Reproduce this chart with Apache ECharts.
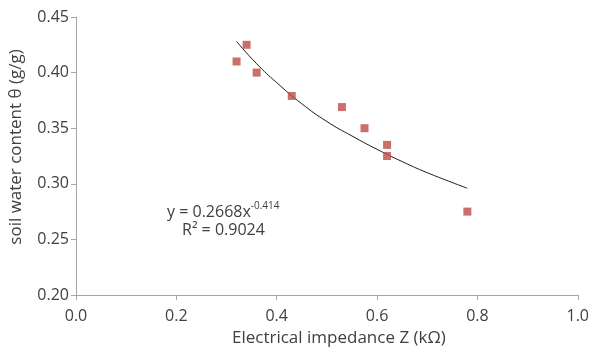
<!DOCTYPE html>
<html>
<head>
<meta charset="utf-8">
<script src="https://cdn.jsdelivr.net/npm/echarts@6/dist/echarts.min.js"></script>
<style>
  html, body { margin: 0; padding: 0; background: #fff; }
  #chart { width: 592px; height: 353px; }
</style>
</head>
<body>
<div id="chart"></div>
<script>
// measured points (Z in kOhm, theta in g/g)
const impedance = [0.32, 0.34, 0.36, 0.43, 0.53, 0.575, 0.62, 0.62, 0.78];
const waterContent = [0.41, 0.425, 0.40, 0.379, 0.369, 0.35, 0.335, 0.325, 0.275];

// power trendline
const trendX = [0.32, 0.36, 0.40, 0.45, 0.50, 0.55, 0.60, 0.65, 0.70, 0.78];
const trendY = [0.428, 0.408, 0.391, 0.372, 0.356, 0.343, 0.331, 0.320, 0.310, 0.296];

const FONT = '"Open Sans", "Liberation Sans", sans-serif';
const TEXT = '#404040';
const AXIS_LINE = { show: true, lineStyle: { color: '#a6a6a6', width: 1 } };

const chart = echarts.init(document.getElementById('chart'));
chart.setOption({
  animation: false,
  grid: { left: 73, right: 12, top: 17, bottom: 58 },
  xAxis: {
    type: 'value', min: 0, max: 1, interval: 0.2,
    name: 'Electrical impedance Z (kΩ)', nameLocation: 'middle', nameGap: 35,
    nameTextStyle: { color: TEXT, fontSize: 17, fontFamily: FONT, padding: [0, 0, 0, 24] },
    axisLine: AXIS_LINE,
    axisTick: { show: true, length: 5, inside: false, lineStyle: { color: '#a6a6a6' } },
    axisLabel: { color: TEXT, fontSize: 16, fontFamily: FONT, margin: 13, formatter: (v) => v.toFixed(1) },
    splitLine: { show: false },
  },
  yAxis: {
    type: 'value', min: 0.2, max: 0.45, interval: 0.05,
    name: 'soil water content θ (g/g)', nameLocation: 'middle', nameGap: 51,
    nameTextStyle: { color: TEXT, fontSize: 17, fontFamily: FONT, padding: [0, 0, 0, 18] },
    axisLine: AXIS_LINE,
    axisTick: { show: true, length: 5, lineStyle: { color: '#a6a6a6' } },
    axisLabel: { color: TEXT, fontSize: 16, fontFamily: FONT, margin: 7, formatter: (v) => v.toFixed(2) },
    splitLine: { show: false },
  },
  series: [
    {
      type: 'line', data: trendX.map((x, i) => [x, trendY[i]]), smooth: true,
      symbol: 'none', lineStyle: { color: '#1a1a1a', width: 1 }, z: 2,
    },
    {
      type: 'scatter', data: impedance.map((x, i) => [x, waterContent[i]]),
      symbol: 'rect', symbolSize: 8, itemStyle: { color: '#be4b48' }, z: 3,
    },
  ],
  graphic: [
    {
      type: 'text', left: 167, top: 201,
      style: {
        text: '{a|y = 0.2668x}{s|-0.414}',
        rich: {
          a: { fontSize: 16, fontFamily: FONT, fill: TEXT, verticalAlign: 'bottom' },
          s: { fontSize: 10, fontFamily: FONT, fill: TEXT, verticalAlign: 'top', padding: [0, 0, 9, 0] },
        },
      },
    },
    {
      type: 'text', left: 182, top: 222,
      style: { text: 'R² = 0.9024', fontSize: 16, fontFamily: FONT, fill: TEXT },
    },
  ],
});
</script>
</body>
</html>
